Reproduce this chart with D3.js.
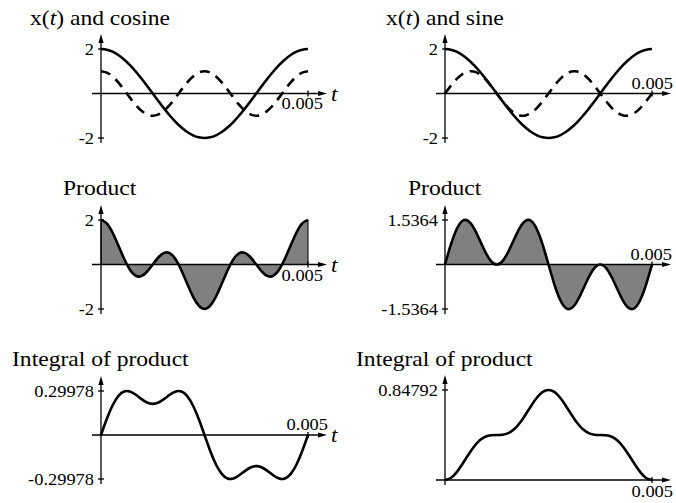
<!DOCTYPE html>
<html>
<head>
<meta charset="utf-8">
<script src="https://cdn.jsdelivr.net/npm/d3@7"></script>
<style>
  body { margin: 0; background: #fff; }
  svg { display: block; }
</style>
</head>
<body>
<svg id="chart" width="676" height="503"></svg>
<script>
// Sample instants (ms) across one period of x(t)
const timeMs = [0, 0.139, 0.278, 0.417, 0.556, 0.694, 0.833, 0.972, 1.111, 1.25,
  1.389, 1.528, 1.667, 1.806, 1.944, 2.083, 2.222, 2.361, 2.5, 2.639, 2.778, 2.917,
  3.056, 3.194, 3.333, 3.472, 3.611, 3.75, 3.889, 4.028, 4.167, 4.306, 4.444, 4.583,
  4.722, 4.861, 5];

// The signal x(t)
const xSignal = [2, 1.970, 1.879, 1.732, 1.532, 1.286, 1, 0.684, 0.347, 0, -0.347,
  -0.684, -1, -1.286, -1.532, -1.732, -1.879, -1.970, -2, -1.970, -1.879, -1.732,
  -1.532, -1.286, -1, -0.684, -0.347, 0, 0.347, 0.684, 1, 1.286, 1.532, 1.732, 1.879,
  1.970, 2];

// Reference cosine and sine (dashed)
const cosineRef = [1, 0.940, 0.766, 0.5, 0.174, -0.174, -0.5, -0.766, -0.940, -1,
  -0.940, -0.766, -0.5, -0.174, 0.174, 0.5, 0.766, 0.940, 1, 0.940, 0.766, 0.5, 0.174,
  -0.174, -0.5, -0.766, -0.940, -1, -0.940, -0.766, -0.5, -0.174, 0.174, 0.5, 0.766,
  0.940, 1];
const sineRef = [0, 0.342, 0.643, 0.866, 0.985, 0.985, 0.866, 0.643, 0.342, 0, -0.342,
  -0.643, -0.866, -0.985, -0.985, -0.866, -0.643, -0.342, 0, 0.342, 0.643, 0.866, 0.985,
  0.985, 0.866, 0.643, 0.342, 0, -0.342, -0.643, -0.866, -0.985, -0.985, -0.866, -0.643,
  -0.342, 0];

// Products of x(t) with each reference
const productCos = [2, 1.851, 1.440, 0.866, 0.266, -0.223, -0.5, -0.524, -0.326, 0,
  0.326, 0.524, 0.5, 0.223, -0.266, -0.866, -1.440, -1.851, -2, -1.851, -1.440, -0.866,
  -0.266, 0.223, 0.5, 0.524, 0.326, 0, -0.326, -0.524, -0.5, -0.223, 0.266, 0.866,
  1.440, 1.851, 2];
const productSin = [0, 0.674, 1.208, 1.5, 1.509, 1.266, 0.866, 0.440, 0.119, 0, 0.119,
  0.440, 0.866, 1.266, 1.509, 1.5, 1.208, 0.674, 0, -0.674, -1.208, -1.5, -1.509,
  -1.266, -0.866, -0.440, -0.119, 0, -0.119, -0.440, -0.866, -1.266, -1.509, -1.5,
  -1.208, -0.674, 0];

// Running integrals of the products
const integralCos = [0, 0.1085, 0.2009, 0.2652, 0.2967, 0.2970, 0.2757, 0.2461, 0.2215,
  0.2122, 0.2215, 0.2461, 0.2757, 0.2970, 0.2967, 0.2652, 0.2009, 0.1085, 0, -0.1085,
  -0.2009, -0.2652, -0.2967, -0.2970, -0.2757, -0.2461, -0.2215, -0.2122, -0.2215,
  -0.2461, -0.2757, -0.2970, -0.2967, -0.2652, -0.2009, -0.1085, 0];
const integralSin = [0, 0.0190, 0.0722, 0.1487, 0.2336, 0.3116, 0.3714, 0.4074, 0.4221,
  0.4244, 0.4268, 0.4414, 0.4775, 0.5372, 0.6152, 0.7001, 0.7767, 0.8298, 0.8479,
  0.8298, 0.7767, 0.7001, 0.6152, 0.5372, 0.4775, 0.4414, 0.4268, 0.4244, 0.4221,
  0.4074, 0.3714, 0.3116, 0.2336, 0.1487, 0.0722, 0.0190, 0];

// Axis tick values
const tEnd = 0.005;
const ticksSignal = [2, -2];
const ticksProdCos = [2, -2];
const ticksProdSin = [1.5364, -1.5364];
const ticksIntCos = [0.29978, -0.29978];
const ticksIntSin = [0.84792];

// Panel titles ([text, italic] runs)
const titleCos = [["x(", false], ["t", true], [") and cosine", false]];
const titleSin = [["x(", false], ["t", true], [") and sine", false]];
const titleProduct = [["Product", false]];
const titleIntegral = [["Integral of product", false]];

const FONT = "'Liberation Serif', 'Times New Roman', Times, serif";
const SX = 1.15; // horizontal glyph stretch

const svg = d3.select("#chart");
svg.append("rect").attr("width", 676).attr("height", 503).attr("fill", "#fff");

const cols = [{ x0: 101, x1: 308 }, { x0: 445, x1: 652 }];

const panels = [
  { col: 0, title: titleCos, tx: 30, ty: 25, yr: [138, 49], dom: [-2, 2], ticks: ticksSignal,
    lines: [{ v: xSignal }, { v: cosineRef, dash: true }], endLabel: "below", endDy: 15, endDx: 15, showT: true },
  { col: 1, title: titleSin, tx: 386, ty: 25, yr: [138, 49], dom: [-2, 2], ticks: ticksSignal,
    lines: [{ v: xSignal }, { v: sineRef, dash: true }], endLabel: "above", endDx: 21, showT: false },
  { col: 0, title: titleProduct, tx: 63, ty: 195, yr: [309, 220], dom: [-2, 2], ticks: ticksProdCos,
    lines: [{ v: productCos, fill: true }], endLabel: "below", endDy: 16, endDx: 15, showT: true },
  { col: 1, title: titleProduct, tx: 408, ty: 195, yr: [309, 220], dom: [-1.5364, 1.5364], ticks: ticksProdSin,
    lines: [{ v: productSin, fill: true }], endLabel: "above", endDx: 20, showT: false },
  { col: 0, title: titleIntegral, tx: 12, ty: 366, yr: [479, 391], dom: [-0.29978, 0.29978], ticks: ticksIntCos,
    lines: [{ v: integralCos }], endLabel: "above", endDx: 20, showT: true },
  { col: 1, title: titleIntegral, tx: 356, ty: 366, yr: [480, 390], dom: [0, 0.84792], ticks: ticksIntSin,
    lines: [{ v: integralSin }], endLabel: "below", endDy: 17, endDx: 21, showT: false }
];

function stretchedText(g, x, y, size, anchor) {
  return g.append("text")
    .attr("transform", `translate(${x},${y}) scale(${SX},1)`)
    .attr("font-family", FONT)
    .attr("font-size", size)
    .attr("text-anchor", anchor || "start")
    .attr("fill", "#000");
}

panels.forEach(p => {
  const c = cols[p.col];
  const g = svg.append("g");
  const x = d3.scaleLinear().domain([0, tEnd]).range([c.x0, c.x1]);
  const y = d3.scaleLinear().domain(p.dom).range(p.yr);
  const y0 = y(0);
  const yTop = Math.min(...p.yr), yBot = Math.max(...p.yr);
  const pts = v => v.map((d, i) => [timeMs[i] / 1000, d]);

  // title
  const tt = stretchedText(g, p.tx, p.ty, 20.5);
  p.title.forEach(([s, it]) => tt.append("tspan").attr("font-style", it ? "italic" : "normal").text(s));

  // filled products
  p.lines.filter(l => l.fill).forEach(l => {
    const area = d3.area().x(d => x(d[0])).y0(y0).y1(d => y(d[1])).curve(d3.curveNatural);
    g.append("path").attr("d", area(pts(l.v)))
      .attr("fill", "#808080").attr("stroke", "#000").attr("stroke-width", 1);
  });

  // axes
  const ax = g.append("g").attr("stroke", "#000").attr("stroke-width", 1.3).attr("fill", "none");
  const yAxTop = yTop - 15, yAxBot = yBot + 5;
  const xAxL = c.x0 - 9, xAxR = c.x1 + 19;
  ax.append("line").attr("x1", c.x0).attr("x2", c.x0).attr("y1", yAxTop + 4).attr("y2", yAxBot);
  ax.append("line").attr("x1", xAxL).attr("x2", xAxR - 4).attr("y1", y0).attr("y2", y0);
  g.append("path").attr("fill", "#000")
    .attr("d", `M${c.x0},${yAxTop} L${c.x0 - 2.6},${yAxTop + 9} L${c.x0 + 2.6},${yAxTop + 9} Z`);
  g.append("path").attr("fill", "#000")
    .attr("d", `M${xAxR},${y0} L${xAxR - 9},${y0 - 2.6} L${xAxR - 9},${y0 + 2.6} Z`);

  // y ticks
  p.ticks.forEach(t => {
    ax.append("line").attr("x1", c.x0 - 3).attr("x2", c.x0 + 3).attr("y1", y(t)).attr("y2", y(t));
    stretchedText(g, c.x0 - 7, y(t) + 5.5, 16, "end").text(String(t));
  });
  // end-of-period tick on the time axis
  ax.append("line").attr("x1", x(tEnd)).attr("x2", x(tEnd)).attr("y1", y0 - 3).attr("y2", y0 + 3);
  const ly = p.endLabel === "below" ? y0 + p.endDy : y0 - 5;
  stretchedText(g, c.x1 + p.endDx, ly, 16, "end").text(String(tEnd));
  if (p.showT) {
    stretchedText(g, c.x1 + 23, y0 + 7, 20).attr("font-style", "italic").text("t");
  }

  // curves
  p.lines.forEach(l => {
    const line = d3.line().x(d => x(d[0])).y(d => y(d[1])).curve(d3.curveNatural);
    g.append("path").attr("d", line(pts(l.v)))
      .attr("fill", "none").attr("stroke", "#000").attr("stroke-width", 2.6)
      .attr("stroke-linejoin", "round")
      .attr("stroke-dasharray", l.dash ? "10,7" : null);
  });
});
</script>
</body>
</html>
